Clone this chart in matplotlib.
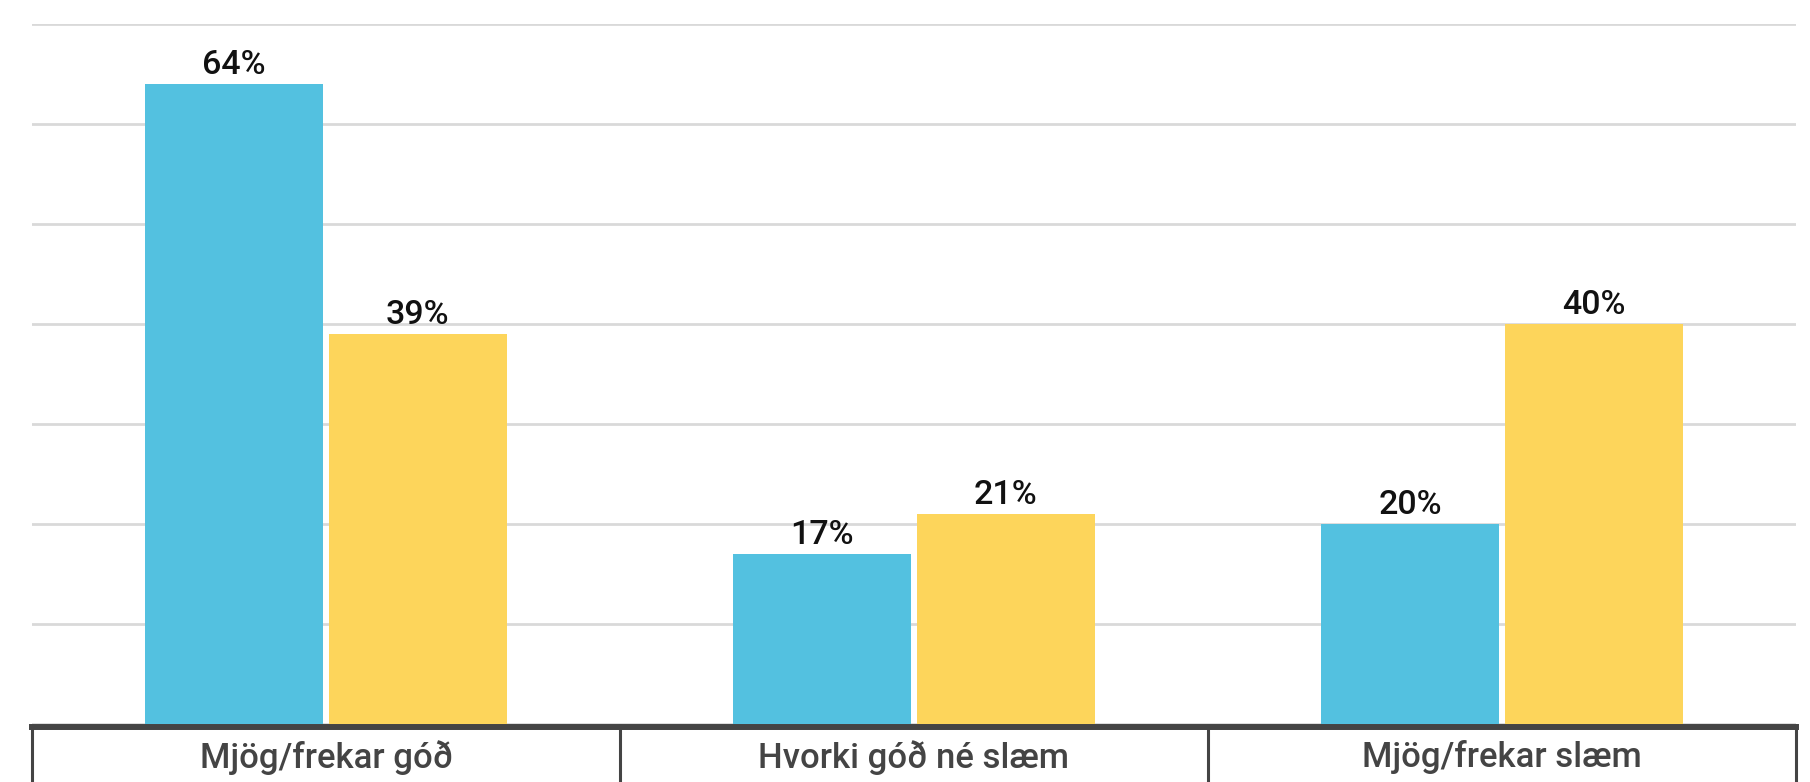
import matplotlib
matplotlib.use("Agg")
import matplotlib.pyplot as plt
import numpy as np

plt.rcParams['font.family'] = ['Roboto', 'DejaVu Sans']

categories = ["Mjög/frekar góð", "Hvorki góð né slæm", "Mjög/frekar slæm"]
series_a = [64, 17, 20]
series_b = [39, 21, 40]
colors = ["#53C1E0", "#FDD55B"]

W, H = 1810, 782
fig = plt.figure(figsize=(W / 100, H / 100), dpi=100)
ax = fig.add_axes([32 / W, 58 / H, (1796 - 32) / W, 700 / H])

for s in ("top", "right", "left"):
    ax.spines[s].set_visible(False)
ax.spines["bottom"].set_color("#444444")
ax.spines["bottom"].set_linewidth(4.3)
ax.spines["bottom"].set_position(("outward", 2.2))
ax.spines["bottom"].set_zorder(4)

x = np.arange(len(categories))
bw = 0.304
off = bw / 2 + 0.0043
bars_a = ax.bar(x - off, series_a, width=bw, color=colors[0], zorder=3)
bars_b = ax.bar(x + off, series_b, width=bw, color=colors[1], zorder=3)

for bars, vals in ((bars_a, series_a), (bars_b, series_b)):
    for b, v in zip(bars, vals):
        ax.annotate(f"{v}%", (b.get_x() + b.get_width() / 2, v),
                    xytext=(0, 7.5), textcoords="offset points",
                    ha="center", va="baseline", fontsize=24.5, fontweight="medium",
                    color="#111111")

ax.set_xlim(-0.5, len(categories) - 0.5)
ax.set_ylim(0, 70)
ax.set_yticks(np.arange(0, 71, 10))
ax.yaxis.grid(True, color="#d9d9d9", linewidth=2.0, zorder=0)
ax.tick_params(axis="y", left=False, labelleft=False)
ax.set_xticks(x)
ax.tick_params(axis="x", length=0, pad=9.5)
ax.set_xticklabels(categories, fontsize=25, fontweight="medium", color="#444444")

ax.vlines(np.arange(len(categories) + 1) - 0.5, -0.2, 0,
          transform=ax.get_xaxis_transform(), colors="#444444",
          linewidth=2.2, clip_on=False)

fig.savefig("out.png", dpi=100)
